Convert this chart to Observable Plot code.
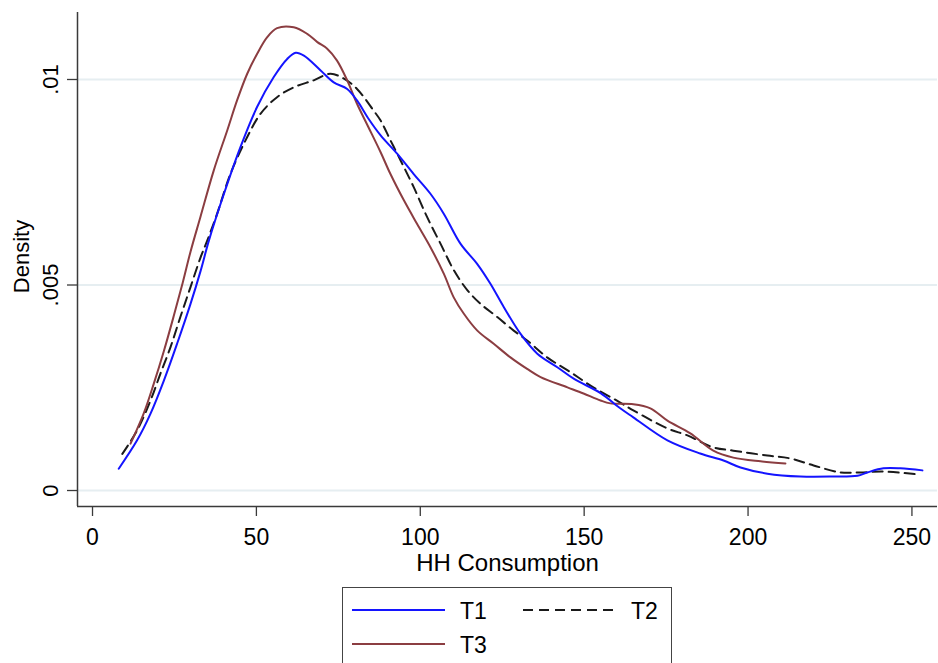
<!DOCTYPE html>
<html>
<head>
<meta charset="utf-8">
<script src="https://cdn.jsdelivr.net/npm/d3@7"></script>
<script src="https://cdn.jsdelivr.net/npm/@observablehq/plot@0.6"></script>
<style>
  body { margin: 0; background: #fff; overflow: hidden; font-family: "Liberation Sans", Arial, sans-serif; }
  #wrap { position: relative; width: 938px; height: 663px; overflow: hidden; }
  #legend { position: absolute; left: 342px; top: 587px; }
</style>
</head>
<body>
<div id="wrap">
  <div id="chart"></div>
  <div id="legend"></div>
</div>
<script>
// ---- Data ----
const seriesNames = ["T1", "T2", "T3"];
const seriesColors = ["#1414ff", "#1a1a1a", "#8b3d41"];

const t1X = [8, 13.6, 17.7, 21.8, 25.8, 29.9, 33, 35.5, 40.1, 45.1, 50.2, 55.3, 59.4, 62, 64.5, 69.6, 73.6, 77.7, 80.7, 84, 87.9, 93, 98, 103.1, 107.2, 112.3, 117.4, 121.4, 125.5, 130.6, 135.7, 141.8, 146.8, 155, 161, 165, 175.4, 185.4, 192.5, 197.7, 205.9, 216, 226, 233.4, 236.4, 241.3, 246.5, 253.2];
const t1Y = [.00053, .00122, .00187, .00268, .00357, .00454, .00535, .00608, .00722, .00835, .00933, .01006, .0105, .01065, .01058, .01022, .00993, .00977, .00949, .00907, .00864, .00819, .0077, .00722, .00673, .006, .00551, .00503, .00446, .00381, .00333, .003, .00272, .00237, .002, .00178, .00122, .0009, .00073, .00056, .00041, .00034, .00034, .00036, .00044, .00054, .00054, .00049];

const t2X = [9.1, 13.6, 17.7, 20.7, 23.8, 26.8, 29.9, 33, 35, 38, 42.1, 47.2, 51.3, 56.3, 61.4, 67.5, 72.6, 76.7, 80.7, 85.7, 87.9, 90.9, 94, 98, 102.1, 106.2, 110.3, 114.4, 118.4, 123.5, 128.5, 132.6, 138.7, 145.8, 152.8, 161, 165, 175.4, 181.5, 189.4, 195.5, 205.9, 212.9, 220, 228.2, 234.3, 241.3, 252];
const t2Y = [.00089, .00146, .00219, .00284, .00349, .00422, .00495, .00568, .00608, .00673, .00771, .0086, .00917, .00957, .00981, .00998, .01014, .01002, .00977, .00925, .009, .00852, .00803, .00738, .00665, .006, .00535, .00487, .00454, .00422, .00389, .00365, .00324, .00288, .00251, .00214, .00195, .00151, .00134, .00105, .00097, .00085, .00078, .00061, .00044, .00044, .00046, .00039];

const t3X = [11.6, 15.6, 18.7, 21.8, 24.8, 27.5, 29.9, 32.9, 37, 41.1, 44.1, 47.2, 50.2, 53.3, 56.3, 61.4, 65.5, 68.6, 71.6, 74.6, 77.7, 80.7, 84, 87.9, 90.9, 95, 99, 103.1, 107.2, 110.2, 113.3, 117.4, 122.4, 127.5, 132.6, 136.7, 144.9, 149.8, 155, 158, 165, 170.2, 175.4, 182.4, 189.4, 195.5, 203.8, 211.4];
const t3Y = [.00114, .00187, .0026, .0034, .00425, .00505, .00581, .00665, .00779, .00876, .00949, .01014, .01062, .01103, .01125, .01127, .01111, .01091, .01075, .01046, .00998, .00941, .00887, .00823, .0077, .00706, .00649, .00592, .00527, .0047, .0043, .00389, .00357, .00324, .00296, .00276, .00251, .00236, .00219, .00212, .0021, .002, .0017, .00139, .00097, .0008, .00071, .00066];

const xTicks = [0, 50, 100, 150, 200, 250];
const yTicks = [0, 0.005, 0.01];
const yTickLabels = ["0", ".005", ".01"];
const xTitle = "HH Consumption";
const yTitle = "Density";

// ---- Build tables ----
const toRows = (xs, ys, s) => xs.map((x, i) => ({x, y: ys[i], series: s}));
const t1 = toRows(t1X, t1Y, "T1");
const t2 = toRows(t2X, t2Y, "T2");
const t3 = toRows(t3X, t3Y, "T3");

const xDomain = [-4.58, 257.8];
const yDomain = [-0.000389, 0.01163];
const axisColor = "#3a3a3a";

const chart = Plot.plot({
  width: 938,
  height: 580,
  marginLeft: 77,
  marginRight: 1,
  marginTop: 12,
  marginBottom: 74,
  style: {fontFamily: "'Liberation Sans', Arial, sans-serif", fontSize: "23px", color: "#000", background: "#fff"},
  x: {domain: xDomain},
  y: {domain: yDomain},
  marks: [
    Plot.ruleY(yTicks, {stroke: "#e6eef1", strokeWidth: 2}),
    Plot.ruleX([xDomain[0]], {stroke: axisColor, strokeWidth: 1.5}),
    Plot.ruleY([yDomain[0]], {stroke: axisColor, strokeWidth: 1.5}),
    Plot.axisX({ticks: xTicks, tickFormat: d3.format("d"), tickSize: 10, tickPadding: 12, stroke: axisColor, strokeWidth: 1.3, label: null, fontSize: 23}),
    Plot.axisY({ticks: yTicks, tickFormat: d => yTickLabels[yTicks.indexOf(d)], tickSize: 10, tickPadding: 10, tickRotate: -90, stroke: axisColor, strokeWidth: 1.3, label: null, fontSize: 22}),
    Plot.text([xTitle], {text: d => d, frameAnchor: "bottom", dy: 47, lineAnchor: "top", textAnchor: "middle", fontSize: 24}),
    Plot.text([yTitle], {text: d => d, frameAnchor: "left", dx: -49, dy: -3, rotate: -90, lineAnchor: "bottom", textAnchor: "middle", fontSize: 22}),
    Plot.line(t2, {x: "x", y: "y", stroke: seriesColors[1], strokeWidth: 2, strokeDasharray: "10,6", curve: "catmull-rom"}),
    Plot.line(t3, {x: "x", y: "y", stroke: seriesColors[2], strokeWidth: 2, curve: "catmull-rom"}),
    Plot.line(t1, {x: "x", y: "y", stroke: seriesColors[0], strokeWidth: 2, curve: "catmull-rom"})
  ]
});
document.getElementById("chart").appendChild(chart);

// ---- Legend (below the chart) ----
const leg = d3.select("#legend").append("svg")
  .attr("width", 331).attr("height", 80)
  .style("font-family", "'Liberation Sans', Arial, sans-serif")
  .style("font-size", "23px");
leg.append("rect").attr("x", 0.5).attr("y", 0.5).attr("width", 329).attr("height", 120)
  .attr("fill", "#fff").attr("stroke", "#444").attr("stroke-width", 1);
const legItems = [
  {name: seriesNames[0], color: seriesColors[0], dash: null, lx: 10, ty: 23},
  {name: seriesNames[1], color: seriesColors[1], dash: "10,6", lx: 181, ty: 23},
  {name: seriesNames[2], color: seriesColors[2], dash: null, lx: 10, ty: 57}
];
legItems.forEach(it => {
  leg.append("line").attr("x1", it.lx).attr("x2", it.lx + 93).attr("y1", it.ty).attr("y2", it.ty)
    .attr("stroke", it.color).attr("stroke-width", 2).attr("stroke-dasharray", it.dash);
  leg.append("text").attr("x", it.lx + 108).attr("y", it.ty + 9).attr("fill", "#000").text(it.name);
});
</script>
</body>
</html>
